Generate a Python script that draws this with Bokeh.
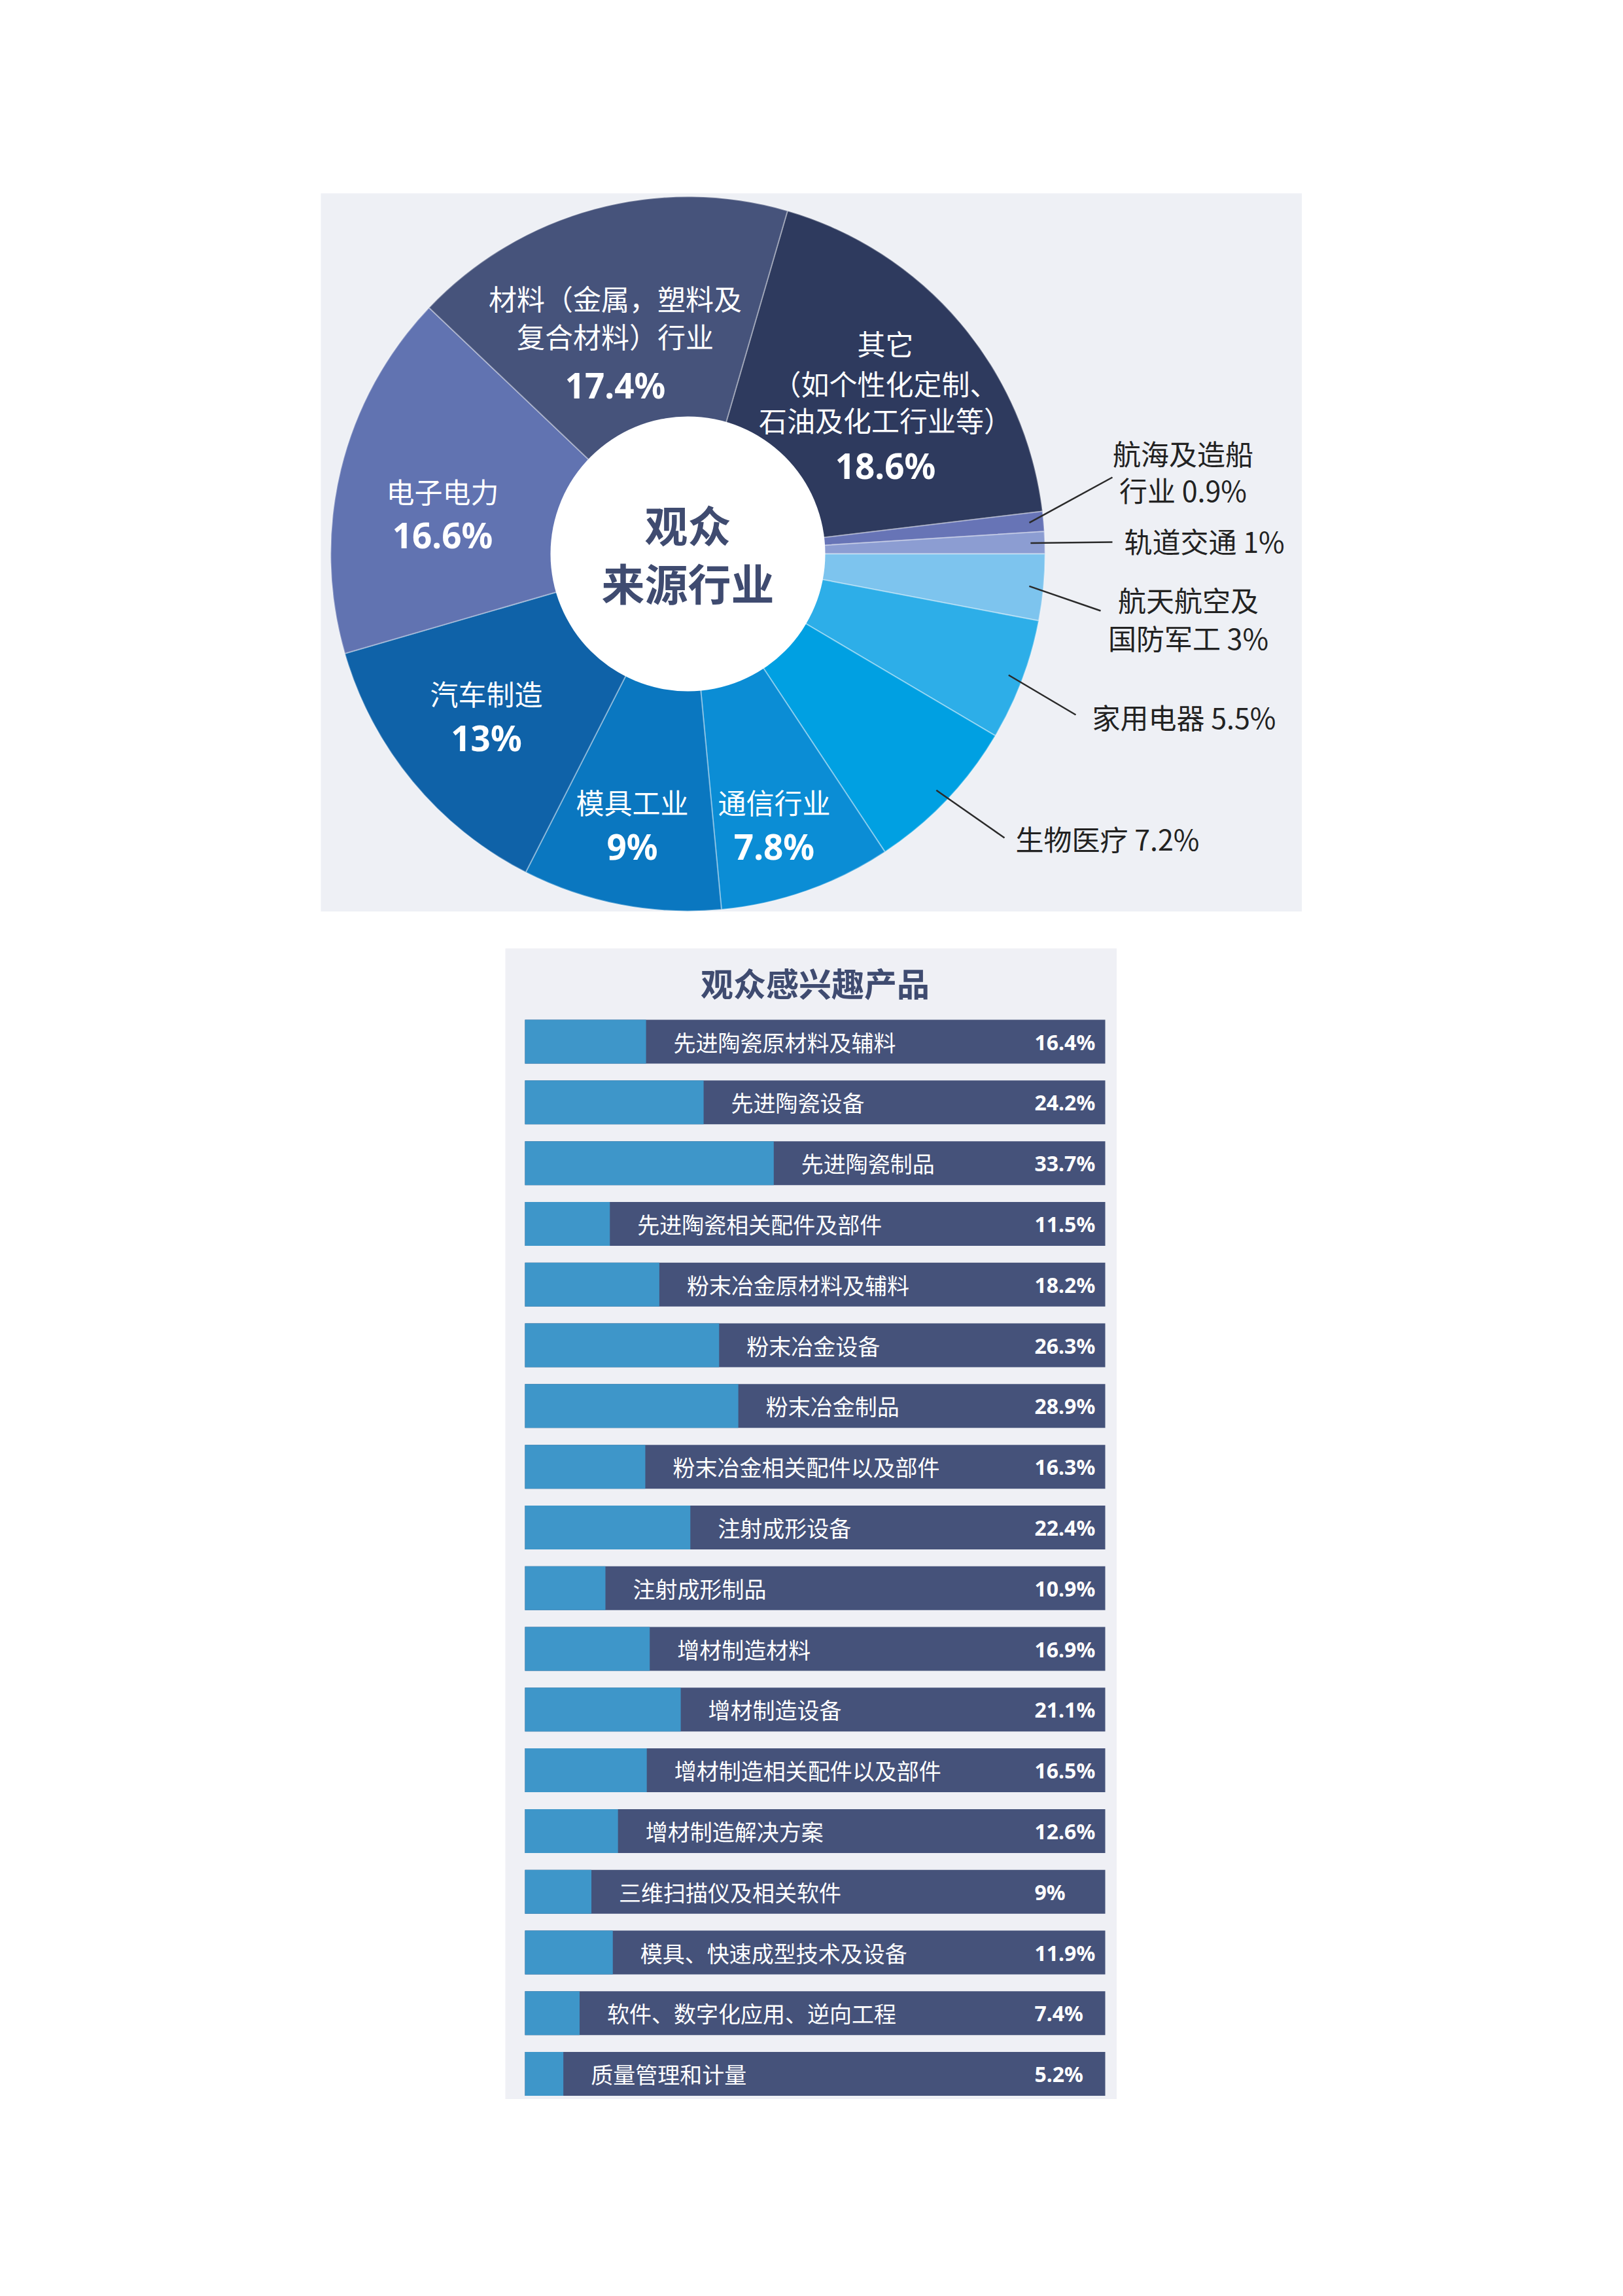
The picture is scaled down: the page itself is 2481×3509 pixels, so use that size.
import numpy as np
from bokeh.plotting import figure
from bokeh.models import ColumnDataSource, Range1d, Spacer
from bokeh.layouts import column, row
from bokeh.core.properties import value
from bokeh.embed import file_html
from bokeh.resources import INLINE

# ---------------- data ----------------
industries = ["其它", "航海及造船行业", "轨道交通", "航天航空及国防军工", "家用电器",
              "生物医疗", "通信行业", "模具工业", "汽车制造", "电子电力", "材料行业"]
shares = [18.6, 0.9, 1, 3, 5.5, 7.2, 7.8, 9, 13, 16.6, 17.4]
slice_colors = ["#2E3A5E", "#6774B6", "#8C9DD2", "#7DC4EE", "#2DAEE8",
                "#00A0E2", "#0B8DD5", "#0A77C0", "#0F62A8", "#6173B1", "#46537B"]

products = ["先进陶瓷原材料及辅料", "先进陶瓷设备", "先进陶瓷制品", "先进陶瓷相关配件及部件",
            "粉末冶金原材料及辅料", "粉末冶金设备", "粉末冶金制品", "粉末冶金相关配件以及部件",
            "注射成形设备", "注射成形制品", "增材制造材料", "增材制造设备",
            "增材制造相关配件以及部件", "增材制造解决方案", "三维扫描仪及相关软件",
            "模具、快速成型技术及设备", "软件、数字化应用、逆向工程", "质量管理和计量"]
interest = [16.4, 24.2, 33.7, 11.5, 18.2, 26.3, 28.9, 16.3, 22.4, 10.9,
            16.9, 21.1, 16.5, 12.6, 9, 11.9, 7.4, 5.2]

CJK = value("Noto Sans CJK SC")
LAT = value("Noto Sans")

def pct(v):
    return f"{v:g}%"

# ---------------- pie (donut) ----------------
PW, PH = 1500, 1098
cx, cy, R, R_IN = 561, 547, 546, 210
START_DEG = 73.8

pie = figure(width=PW, height=PH, x_range=Range1d(0, PW), y_range=Range1d(0, PH),
             toolbar_location=None, output_backend="svg", min_border=0,
             background_fill_color="#EEF0F5", border_fill_color="#EEF0F5",
             outline_line_color=None, title=None)
pie.axis.visible = False
pie.grid.visible = False

cum = np.concatenate([[0], np.cumsum(shares)])
theta = np.radians(START_DEG) - 2 * np.pi * cum / 100.0
s_start = theta[1:]
s_end = theta[:-1]
mid = (s_start + s_end) / 2

src = ColumnDataSource(dict(start=s_start, end=s_end, color=slice_colors, name=industries, share=shares))
pie.wedge(x=cx, y=cy, radius=R, start_angle="start", end_angle="end", direction="anticlock",
          fill_color="color", line_color="white", line_alpha=0.35, line_width=2, source=src)
pie.circle(x=cx, y=cy, radius=R_IN, fill_color="white", line_color=None)

pie.text(x=[cx, cx], y=[594, 505], text=["观众", "来源行业"], text_font=CJK, text_font_style="bold",
         text_font_size="66px", text_color="#3F4B70", text_align="center", text_baseline="middle")

# inside labels: slice index -> (x, name lines, y of lines, y of percent)
inside = {
    0: (863, ["其它", "（如个性化定制、", "石油及化工行业等）"], [870, 809, 753], 682),
    10: (450, ["材料（金属，塑料及", "复合材料）行业"], [939, 881], 805),
    9: (186, ["电子电力"], [644], 576),
    8: (253, ["汽车制造"], [335], 266),
    7: (476, ["模具工业"], [169], 100),
    6: (693, ["通信行业"], [169], 100),
}
lx, ly, lt, px_, py_, pt = [], [], [], [], [], []
for i, (x, lines, ys, yp) in inside.items():
    for t, y in zip(lines, ys):
        lx.append(x); ly.append(y); lt.append(t)
    px_.append(x); py_.append(yp); pt.append(pct(shares[i]))
pie.text(x=lx, y=ly, text=lt, text_font=CJK, text_font_size="43px", text_color="white",
         text_align="center", text_baseline="middle")
pie.text(x=px_, y=py_, text=pt, text_font=LAT, text_font_style="bold", text_font_size="53px",
         text_color="white", text_align="center", text_baseline="middle")

# outside labels: slice index -> (align, x, lines, ys, leader end)
outside = {
    1: ("center", 1318, ["航海及造船", "行业 " + pct(shares[1])], [702, 646], (1210, 664)),
    2: ("left", 1228, ["轨道交通 " + pct(shares[2])], [568], (1210, 565)),
    3: ("center", 1326, ["航天航空及", "国防军工 " + pct(shares[3])], [478, 420], (1192, 460)),
    4: ("left", 1179, ["家用电器 " + pct(shares[4])], [299], (1154, 301)),
    5: ("left", 1062, ["生物医疗 " + pct(shares[5])], [113], (1045, 113)),
}
x0s, y0s, x1s, y1s = [], [], [], []
for i, (al, x, lines, ys, (ex, ey)) in outside.items():
    pie.text(x=[x] * len(lines), y=ys, text=lines, text_font=CJK, text_font_size="43px",
             text_color="#222222", text_align=al, text_baseline="middle")
    x0s.append(cx + 0.96 * R * np.cos(mid[i])); y0s.append(cy + 0.96 * R * np.sin(mid[i]))
    x1s.append(ex); y1s.append(ey)
pie.segment(x0=x0s, y0=y0s, x1=x1s, y1=y1s, line_color="#2A2A2A", line_width=2.5)

# ---------------- bars ----------------
BW, BH = 935, 1759
FULL = 78.6
bars = figure(width=BW, height=BH, x_range=Range1d(-2.658, 80.195), y_range=Range1d(17.419, -1.536),
              toolbar_location=None, output_backend="svg", min_border=0,
              background_fill_color="#EFF0F5", border_fill_color="#EFF0F5",
              outline_line_color=None, title=None)
bars.axis.visible = False
bars.grid.visible = False

idx = list(range(len(products)))
bsrc = ColumnDataSource(dict(y=idx, v=interest, name=products, full=[FULL] * len(idx),
                             label=[pct(v) for v in interest]))
bars.hbar(y="y", left=0, right="full", height=0.722, fill_color="#45527A", line_color=None, source=bsrc)
bars.hbar(y="y", left=0, right="v", height=0.722, fill_color="#3E96C9", line_color=None, source=bsrc)
bars.text(x="v", y="y", text="name", x_offset=42, text_font=CJK, text_font_size="34px",
          text_color="white", text_align="left", text_baseline="middle", source=bsrc)
bars.text(x="full", y="y", text="label", x_offset=-108, text_font=LAT, text_font_style="bold",
          text_font_size="32px", text_color="white", text_align="left", text_baseline="middle", source=bsrc)
bars.text(x=[FULL / 2], y=[-0.976], text=["观众感兴趣产品"], text_font=CJK, text_font_style="bold",
          text_font_size="50px", text_color="#3F4B70", text_align="center", text_baseline="middle")

layout = column(
    Spacer(height=295),
    row(Spacer(width=490), pie),
    Spacer(height=56),
    row(Spacer(width=772), bars),
)

open("out.html", "w").write(file_html(layout, INLINE))
